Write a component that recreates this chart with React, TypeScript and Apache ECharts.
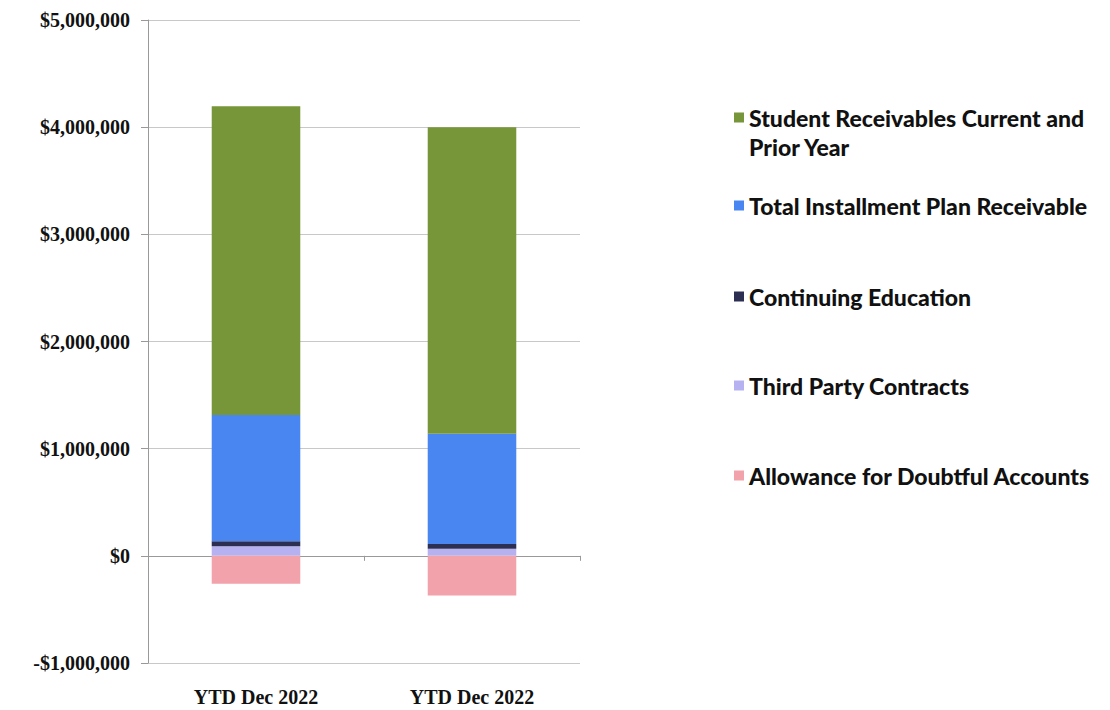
import React, { useEffect, useRef } from "react";
import * as echarts from "echarts";

const categories = ["YTD Dec 2022", "YTD Dec 2022 "];
const studentReceivables = [2880000, 2860000];
const installmentPlan = [1180000, 1030000];
const continuingEducation = [45000, 45000];
const thirdPartyContracts = [90000, 65000];
const allowanceDoubtful = [-260000, -370000];
const yTicks = [-1000000, 0, 1000000, 2000000, 3000000, 4000000, 5000000];

const names = [
  "Student Receivables Current and Prior Year",
  "Total Installment Plan Receivable",
  "Continuing Education",
  "Third Party Contracts",
  "Allowance for Doubtful Accounts",
];
const colors = ["#77963a", "#4a86f2", "#2c2e52", "#b6b2f2", "#f2a2aa"];
const legendTops = [98, 186, 277, 366, 456];

function fmt(v: number) {
  const s = Math.abs(v).toLocaleString("en-US");
  return (v < 0 ? "-$" : "$") + s;
}

export default function App() {
  const ref = useRef<HTMLDivElement>(null);
  useEffect(() => {
    if (!ref.current) return;
    const chart = echarts.init(ref.current, undefined, { renderer: "svg" });
    const dataBy: Record<string, number[]> = {
      [names[0]]: studentReceivables,
      [names[1]]: installmentPlan,
      [names[2]]: continuingEducation,
      [names[3]]: thirdPartyContracts,
      [names[4]]: allowanceDoubtful,
    };
    const order = [3, 2, 1, 0, 4];
    const legendText = {
      fontFamily: "Lato, 'Open Sans', sans-serif",
      fontWeight: 900,
      fontSize: 23,
      color: "#111",
      lineHeight: 29,
    };
    const serifLabel = {
      fontFamily: "'Liberation Serif', 'Times New Roman', serif",
      fontWeight: "bold" as const,
      fontSize: 20,
      color: "#111",
    };
    chart.setOption({
      animation: false,
      backgroundColor: "#fff",
      grid: { left: 148, right: 530, top: 20, bottom: 47, outerBoundsMode: "none" },
      legend: names.map((n, i) => ({
        data: [n],
        left: 729,
        top: legendTops[i],
        orient: "vertical",
        icon: i === 0 ? "path://M0,0h10v10h-10z M0,39h0.01v0.01h-0.01z" : "rect",
        itemWidth: 10,
        itemHeight: i === 0 ? 39 : 10,
        itemGap: 0,
        selectedMode: false,
        formatter: i === 0 ? () => "Student Receivables Current and\nPrior Year" : undefined,
        textStyle: legendText,
      })),
      xAxis: [
        {
          type: "category",
          data: categories,
          axisLine: { onZero: true, lineStyle: { color: "#999" } },
          axisTick: { show: true, alignWithLabel: false, length: 5, lineStyle: { color: "#999" } },
          axisLabel: { show: false },
        },
        {
          type: "category",
          data: categories,
          position: "bottom",
          axisLine: { show: false, onZero: false },
          axisTick: { show: false },
          axisLabel: {
            ...serifLabel,
            margin: 24,
            formatter: (v: string) => v.trim(),
          },
        },
      ],
      yAxis: {
        type: "value",
        min: -1000000,
        max: 5000000,
        interval: 1000000,
        axisLine: { show: true, lineStyle: { color: "#999" } },
        axisTick: { show: true, length: 7, lineStyle: { color: "#999" } },
        splitLine: { show: true, lineStyle: { color: "#c8c8c8" } },
        axisLabel: {
          ...serifLabel,
          margin: 18,
          formatter: (v: number) => (yTicks.includes(v) ? fmt(v) : ""),
        },
      },
      series: order.map((idx) => ({
        name: names[idx],
        type: "bar",
        stack: "total",
        barWidth: "41%",
        xAxisIndex: 0,
        itemStyle: { color: colors[idx] },
        data: dataBy[names[idx]],
      })),
    });
    return () => chart.dispose();
  }, []);
  return (
    <div
      ref={ref}
      style={{ position: "absolute", left: 0, top: 0, width: 1110, height: 710 }}
    />
  );
}
